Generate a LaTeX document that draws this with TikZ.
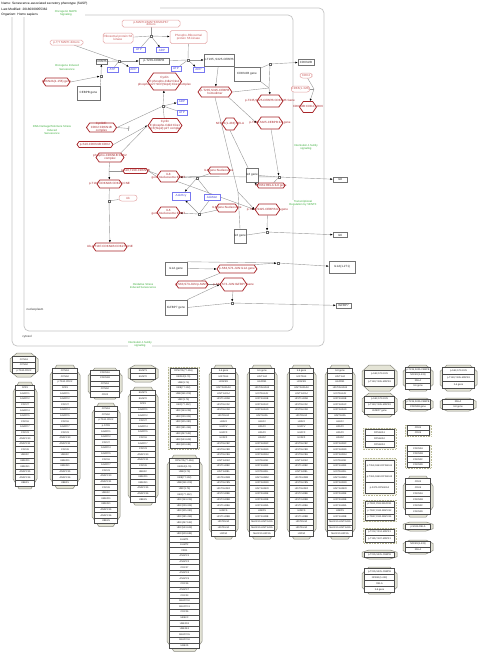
\documentclass[tikz,border=0pt]{standalone}
\usepackage{fontspec}
\setmainfont{Liberation Sans}
\usetikzlibrary{arrows.meta,shapes.symbols}

\definecolor{cxred}{RGB}{168,38,42}
\definecolor{pinkln}{RGB}{228,165,165}
\definecolor{pinktx}{RGB}{200,85,85}
\definecolor{chemln}{RGB}{120,120,240}
\definecolor{chemtx}{RGB}{70,70,215}
\definecolor{pwgreen}{RGB}{60,175,60}
\definecolor{edgegrey}{RGB}{150,150,150}
\definecolor{compgrey}{RGB}{195,195,195}
\definecolor{cpxfill}{RGB}{228,228,214}
\definecolor{cpxline}{RGB}{140,140,130}
\definecolor{setline}{RGB}{185,185,150}

\newcommand{\nodefont}{\fontsize{3}{3.4}\selectfont}
\newcommand{\pwfont}{\fontsize{2.8}{3.2}\selectfont}
\newcommand{\rowfont}{\fontsize{2.4}{2.8}\selectfont}
\newcommand{\hdrfont}{\fontsize{3.2}{3.6}\selectfont}

\pgfdeclarelayer{bg}
\pgfsetlayers{bg,main}

% member lists
\def\apcsub{ANAPC1,ANAPC2,CDC27,ANAPC4,ANAPC5,CDC16,ANAPC7,CDC23,ANAPC10,ANAPC11,CDC26,UBE2C,UBE2D1,UBE2E1,ANAPC15,ANAPC16,UBE2S}
\def\ubl{RPS27A(77-156),UBA52(1-76),UBB(1-76),UBB(77-152),UBB(153-228),UBC(1-76),UBC(77-152),UBC(153-228),UBC(229-304),UBC(305-380),UBC(381-456),UBC(457-532),UBC(533-608),UBC(609-684)}
\def\hisbase{HIST1H4,H2AFB1,HIST2H2AA3,HIST1H2AJ,HIST1H2AB,HIST1H2AC,HIST1H2AD,HIST3H2A,H2AFJ,H2AFV,H2AFX,H2AFZ,HIST1H2BC,HIST1H2BD,HIST1H2BH,HIST1H2BJ,HIST1H2BK,HIST1H2BL,HIST1H2BM,HIST1H2BN,HIST1H2BO,HIST2H2BE,HIST3H2BB,HIST1H2BA,H2BFS,HIST1H2BB}
\def\mehthree{Me2K10-HIST2H3A,Me2K10-HIST1H3A,Me2K10-H3F3A}

% complex with listed members: name, x0, x1, ytop, row height, pad, members
\newcommand{\cplx}[7]{%
  \edef\cpxlist{#7}%
  \foreach \rw [count=\k] in \cpxlist {\xdef\cpxn{\k}}%
  \pgfmathsetmacro\cpxbot{#4+2*#6+\cpxn*#5}%
  \pgfmathsetmacro\cpxcx{min(7,(#3-#2)/4)}%
  \pgfmathsetmacro\cpxcy{min(10,(\cpxbot-#4)/4)}%
  \draw[cpxout] ({#2+\cpxcx},#4) -- ({#3-\cpxcx},#4) -- (#3,{#4+\cpxcy}) -- (#3,{\cpxbot-\cpxcy})
    -- ({#3-\cpxcx},\cpxbot) -- ({#2+\cpxcx},\cpxbot) -- (#2,{\cpxbot-\cpxcy}) -- (#2,{#4+\cpxcy}) -- cycle;
  \foreach \rw [count=\k] in \cpxlist {
    \node[rowbox, minimum width={(#3-#2-5)*1pt}, minimum height={#5*1pt}] (#1-\k)
      at ({(#2+#3)/2},{#4+#6+(\k-0.5)*#5}) {\rw};
  }%
}
% set with listed members
\newcommand{\cset}[7]{%
  \edef\cpxlist{#7}%
  \foreach \rw [count=\k] in \cpxlist {\xdef\cpxn{\k}}%
  \pgfmathsetmacro\cpxbot{#4+2*#6+\cpxn*#5}%
  \draw[setout] (#2,#4) rectangle (#3,\cpxbot);
  \foreach \rw [count=\k] in \cpxlist {
    \node[rowbox, minimum width={(#3-#2-4)*1pt}, minimum height={#5*1pt}] (#1-\k)
      at ({(#2+#3)/2},{#4+#6+(\k-0.5)*#5}) {\rw};
  }%
}
% complex glyph with its label
\newcommand{\hexc}[6]{%
  \node[hexs, minimum width=#4pt, minimum height=#5pt] (#1) at (#2,#3) {};
  \node[hexlab] (#1-t) at (#1) {#6};
}

\begin{document}
\begin{tikzpicture}[
  x=1pt, y=-1pt,
  prot/.style={draw=pinkln, rounded corners=1.8pt, text=pinktx, font=\nodefont, align=center, inner sep=0.4pt, fill=white, line width=0.5pt},
  protel/.style={prot, rounded corners=2.6pt},
  ent/.style={draw=black!55, text=black!85, font=\nodefont, align=center, inner sep=0.4pt, fill=white, line width=0.5pt},
  chem/.style={draw=chemln, text=chemtx, font=\nodefont, inner sep=0.4pt, fill=white, line width=0.5pt},
  rxn/.style={draw=black!60, fill=white, minimum size=2.4pt, inner sep=0pt, line width=0.35pt},
  hexs/.style={shape=signal, signal to=east and west, signal pointer angle=110, draw=cxred, line width=0.75pt, fill=white, inner sep=0pt},
  hexlab/.style={text=cxred, font=\nodefont, align=center, inner sep=0pt},
  pw/.style={text=pwgreen, font=\pwfont, align=center, fill=white, inner sep=0.4pt},
  cmplbl/.style={text=black!80, font=\nodefont, inner sep=0.3pt},
  hdr/.style={anchor=west, font=\hdrfont, fill=white, inner sep=0.3pt},
  comp/.style={draw=compgrey, line width=0.7pt, rounded corners=5pt},
  cpxout/.style={draw=cpxline, fill=cpxfill, line width=0.5pt},
  setout/.style={draw=setline, fill=cpxfill!60, densely dotted, line width=0.6pt},
  rowbox/.style={draw=black!70, fill=white, line width=0.3pt, inner sep=0pt, font=\rowfont, text=black!85},
  ln/.style={draw=edgegrey, line width=0.4pt},
  arr/.style={ln, -{Latex[length=2.4pt,width=2pt,color=black]}},
  inh/.style={ln, -{Bar[width=4.5pt,color=black!70]}}
]
\useasboundingbox (0,0) rectangle (480,656);

% header
\node[hdr] (hdrname) at (1,4) {Name: Senescence-associated secretory phenotype (SASP)};
\node[hdr] (hdrdate) at (1,9.5) {Last Modified: 20180309055362};
\node[hdr] (hdrorg) at (1,14.5) {Organism: Homo sapiens};

% MAPK / RSK phosphorylation of CEBPB
\node[prot, minimum width=58pt, minimum height=7pt] (mapkdim) at (151,23.5) {p-MAPK1/MAPK3/MAPK7\\[-0.6pt]dimers};
\node[prot, minimum width=30pt, minimum height=10pt] (rsk) at (118,38) {Ribosomal protein S6\\kinase};
\node[prot, minimum width=37pt, minimum height=13pt] (prsk) at (188.5,37) {Phospho-Ribosomal\\protein S6 kinase};
\node[rxn] (rxrsk) at (151,36) {};
\node[chem, minimum width=12pt, minimum height=5pt] (atpA) at (139,49.5) {ATP};
\node[chem, minimum width=12pt, minimum height=5pt] (adpA) at (162,50) {ADP};
\node[prot, minimum width=33pt, minimum height=5pt] (pmapk) at (66.5,42.5) {p-T,Y MAPK dimers};
\node[ent, minimum width=11pt, minimum height=5pt] (cebpb) at (101.5,61.5) {CEBPB};
\node[rxn] (rxcebA) at (119,61) {};
\node[chem, minimum width=11pt, minimum height=5pt] (atpB) at (112.5,69.5) {ATP};
\node[chem, minimum width=9pt, minimum height=5pt] (adpB) at (133.5,69.5) {ADP};
\node[ent, minimum width=30pt, minimum height=6pt] (pcebpb) at (154,61) {p-T235-CEBPB};
\node[rxn] (rxcebB) at (188,60) {};
\node[chem, minimum width=10pt, minimum height=5pt] (atpC) at (176,68.5) {ATP};
\node[chem, minimum width=11pt, minimum height=5pt] (adpC) at (198.5,69.5) {ADP};
\node[ent, minimum width=28pt, minimum height=12pt] (ppcebpb) at (219,60) {p-T235, S325-CEBPB};
\node[ent, minimum width=26pt, minimum height=14pt] (cdkn2bgene) at (247,74) {CDKN2B gene};
\node[ent, minimum width=16pt, minimum height=6pt] (cdkn2b) at (306,62) {CDKN2B};
\node[rxn] (rxcdkn2b) at (270,64) {};
\coordinate (jbind) at (269,88);

% CEBPB expression
\hexc{cdkn2agene}{56.5}{82}{27}{8}{CDKN2A(1-156) gene}
\node[ent, minimum width=23pt, minimum height=14pt] (cebpbgene) at (88.5,93) {CEBPB gene};
\node[rxn] (rxcebpbexp) at (101,76) {};

% cyclin / CDKN1B
\hexc{cycA}{164.5}{81.5}{34}{17}{Cyclin\\E:phospho-Cdk2:Cks1\\phospho-p27:SCF(Skp2):Cks1 complex}
\node[rxn] (rxcyc) at (163,106) {};
\node[chem, minimum width=10pt, minimum height=5pt] (adpD) at (182,101.5) {ADP};
\node[chem, minimum width=10pt, minimum height=5pt] (atpD) at (182,112.5) {ATP};
\hexc{cycB}{165}{125.5}{34}{14}{Cyclin\\E:phospho-Cdk2:Cks1\\SCF(Skp2):p27 complex}
\hexc{cdk2cpx}{101.5}{127.5}{30}{9}{CyclinE:\\CDK2:CDKN1B\\complex}
\coordinate (inhend) at (129,128.5);
\hexc{pcdkn1b}{95}{144.5}{36}{6}{p-S10-CDKN1B:CDK2}
\hexc{phcdkn1b}{110}{157.5}{28}{9}{phospho-CDKN1B:CDK2\\complex}
\coordinate (jcdk) at (109,171);
\hexc{ppcdkn1b}{135.5}{171}{25}{5}{p-S10,T198-CDKN1B}
\hexc{ubpre}{109.5}{184}{25}{8}{p-T187-CDKN1B:CDK2:CCNE}
\node[rxn] (rxub) at (109,201) {};
\node[protel, minimum width=18pt, minimum height=6pt] (ub) at (128,198) {Ub};
\hexc{ubcpx}{110}{247}{34}{8}{Ub-p-T187-CDKN1B:CDK2:CCNE}

% histone methylation
\hexc{me8}{168.5}{176.5}{23}{11}{IL8\\gene:Nucleosome:EHMT}
\hexc{me6}{168.5}{212.5}{23}{11}{IL6\\gene:Nucleosome:EHMT}
\node[rxn] (rxme8) at (197,178) {};
\node[rxn] (rxme6) at (199,214) {};
\node[chem, minimum width=18pt, minimum height=8pt] (adohcy) at (181,196) {AdoHcy};
\node[chem, minimum width=16pt, minimum height=6pt] (adomet) at (212,197) {AdoMet};
\hexc{nuc8}{219}{170.5}{22}{7}{IL8 gene:Nucleosome}
\hexc{nuc6}{227}{208}{22}{8}{IL6 gene:Nucleosome}

% CEBPB targets
\hexc{cebpbdim}{215}{92}{34}{10}{p-T235,S325-CEBPB\\homodimer}
\hexc{cebpbcdkn2b}{270}{101}{26}{12}{p-T235,S325-CEBPB:CDKN2B Gene}
\hexc{nfkb}{230}{124}{16}{12}{NFKB1(1-433):RELA}
\hexc{cebpbil8}{270}{123}{26}{12}{p-T235,S325-CEBPB:IL8 gene}
\node[rxn] (rxil8) at (279,177) {};
\node[ent, minimum width=12pt, minimum height=14pt] (il8gene) at (252,175) {IL8 gene};
\node[ent, minimum width=14pt, minimum height=5pt] (il8) at (340,179.5) {IL8};
\hexc{nfkbil8}{271}{185.5}{28}{5}{NFKB1:RELA:IL8 gene}
\node[ent, minimum width=12pt, minimum height=14pt] (il6gene) at (240,236) {IL6 gene};
\hexc{cebpbil6}{267.5}{209.5}{25}{11}{p-T235,S325-CEBPB:IL6 gene}
\coordinate (jil6) at (238,192);
\node[rxn] (rxil6) at (267,232) {};
\node[ent, minimum width=14pt, minimum height=5pt] (il6) at (340,235) {IL6};

% IL1A and IGFBP7
\node[ent, minimum width=22pt, minimum height=13pt] (il1agene) at (176,268.5) {IL1A gene};
\hexc{junil1a}{237}{269}{40}{8}{p-S63,S73-JUN:IL1A gene}
\node[rxn] (rxil1a) at (278,263) {};
\node[ent, minimum width=26pt, minimum height=12pt] (il1a) at (342,267) {IL1A(1-271)};
\hexc{pjun}{192}{284.5}{32}{7}{p-S63,S73-JUN:p-MAPK}
\hexc{junigf}{233.5}{284.5}{27}{13}{p-S63,S73-JUN:IGFBP7 Gene}
\node[ent, minimum width=22pt, minimum height=15pt] (igfgene) at (176,307.5) {IGFBP7 gene};
\node[rxn] (rxigf) at (232,303) {};
\node[ent, minimum width=15pt, minimum height=5pt] (igf) at (343.5,305.5) {IGFBP7};

% cytosol
\node[protel, minimum width=12pt, minimum height=5pt] (cdk4) at (306,75.5) {CDK4};
\node[protel, minimum width=16pt, minimum height=6pt] (cdk6) at (300.5,89) {CDK6(1-326)};
\coordinate (jcdk46) at (314,89);
\hexc{cdkcpx}{308}{107}{17}{11}{CDKN2B:CDK4,CDK6}

% pathway and compartment labels
\node[pw] (lblmapk) at (66,13) {Oncogenic MAPK\\Signaling};
\node[pw] (lblois) at (67,67.5) {Oncogene Induced\\Senescence};
\node[pw] (lbldna) at (52,130) {DNA Damage/Telomere Stress\\Induced\\Senescence};
\node[pw] (lblox) at (143,286) {Oxidative Stress\\Induced Senescence};
\node[pw] (lblilA) at (306,147) {Interleukin-1 family\\signaling};
\node[pw] (lblilB) at (140,344) {Interleukin-1 family\\signaling};
\node[pw] (lblventx) at (303,203) {Transcriptional\\Regulation by VENTX};
\node[cmplbl] (lblnuc) at (35,310) {nucleoplasm};
\node[cmplbl] (lblcyt) at (27,337) {cytosol};

\begin{pgfonlayer}{bg}
  % compartments
  \draw[comp] (160,8) -- (324,8) -- (324,346) -- (12,346) -- (12,17);
  \draw[comp] (85,15) -- (293,15) -- (293,331) -- (24,331) -- (24,17);

  \draw[ln] (rsk) -- (rxrsk);
  \draw[arr] (rxrsk) -- (prsk);
  \draw[ln] (mapkdim) -- (rxrsk);
  \draw[ln] (atpA) -- (rxrsk);
  \draw[arr] (rxrsk) -- (adpA);
  \draw[ln] (cebpb) -- (rxcebA);
  \draw[arr] (rxcebA) -- (pcebpb);
  \draw[ln] (pmapk) -- (rxcebA);
  \draw[ln] (atpB) -- (rxcebA);
  \draw[arr] (rxcebA) -- (adpB);
  \draw[ln] (pcebpb) -- (rxcebB);
  \draw[arr] (rxcebB) -- (ppcebpb);
  \draw[ln] (prsk) -- (rxcebB);
  \draw[ln] (atpC) -- (rxcebB);
  \draw[arr] (rxcebB) -- (adpC);
  \draw[arr] (ppcebpb) -- (cebpbdim);
  \draw[ln] (cdkn2bgene) -- (rxcdkn2b);
  \draw[arr] (rxcdkn2b) -- (cdkn2b);
  \draw[ln] (cebpbdim.east) -- (jbind);
  \draw[ln] (cdkn2bgene.south east) -- (jbind);
  \draw[arr] (jbind) -- (cebpbcdkn2b.north);
  \draw[ln] (jbind) -- (rxcdkn2b);

  \draw[ln] (cebpbgene.north east) -- (rxcebpbexp);
  \draw[arr] (rxcebpbexp) -- (cebpb);
  \draw[arr] (cdkn2agene.east) -- (rxcebpbexp);

  \draw[ln] (cycB) -- (rxcyc);
  \draw[arr] (rxcyc) -- (cycA);
  \draw[ln] (atpD) -- (rxcyc);
  \draw[arr] (rxcyc) -- (adpD);
  \draw[ln] (cdk2cpx.east) -- (rxcyc);
  \draw[inh] (cdk2cpx.east) -- (inhend);
  \draw[arr] (pcdkn1b.east) -- (cycB.west);
  \draw[ln] (cycB.west) -- (phcdkn1b.north east);
  \draw[ln] (phcdkn1b) -- (jcdk);
  \draw[arr] (jcdk) -- (ubpre);
  \draw[ln] (jcdk) -- (ppcdkn1b);
  \draw[ln] (ubpre) -- (rxub);
  \draw[arr] (rxub) -- (ubcpx);
  \draw[ln] (ub) -- (rxub);
  \draw[ln] (ppcdkn1b.east) -- (me8.west);
  \draw[ln] (me8.east) -- (rxil8);
  \draw[arr] (ppcdkn1b.east) -- (cebpbil6.west);

  \draw[ln] (nuc8) -- (rxme8);
  \draw[arr] (rxme8) -- (me8);
  \draw[ln] (adomet) -- (rxme8);
  \draw[arr] (rxme8) -- (adohcy);
  \draw[ln] (nuc6) -- (rxme6);
  \draw[arr] (rxme6) -- (me6);
  \draw[ln] (adomet) -- (rxme6);
  \draw[arr] (rxme6) -- (adohcy);

  \draw[ln] (il8gene) -- (rxil8);
  \draw[arr] (rxil8) -- (il8);
  \draw[arr] (cebpbil8) -- (rxil8);
  \draw[ln] (nfkbil8) -- (rxil8);
  \draw[arr] (cebpbdim.south east) -- (cebpbil8.west);
  \draw[arr] (nfkb.south) -- (nfkbil8.west);
  \draw[ln] (cebpbdim.south) -- (jil6);
  \draw[ln] (il6gene.north) -- (jil6);
  \draw[arr] (jil6) -- (cebpbil6.west);
  \draw[ln] (il6gene) -- (rxil6);
  \draw[arr] (rxil6) -- (il6);
  \draw[arr] (cebpbil6) -- (rxil6);

  \draw[ln] (il1agene.north east) -- (rxil1a);
  \draw[arr] (rxil1a) -- (il1a);
  \draw[arr] (il1agene.east) -- (junil1a.west);
  \draw[ln] (pjun) -- (junil1a.south west);
  \draw[arr] (junil1a.north east) -- (rxil1a);
  \draw[arr] (igfgene.north east) -- (junigf.west);
  \draw[ln] (pjun.east) -- (junigf.west);
  \draw[ln] (igfgene.east) -- (rxigf);
  \draw[arr] (rxigf) -- (igf);
  \draw[arr] (junigf) -- (rxigf);

  \draw[ln] (cdk4) -- (jcdk46);
  \draw[ln] (cdk6) -- (jcdk46);
  \draw[arr] (jcdk46) -- (cdkcpx);
\end{pgfonlayer}

% complexes and sets, left block
\cplx{ccna}{10}{38}{353}{5.6}{3.6}{CCNA1,CCNA2,p-T160-CDK2}
\cplx{apcfzr}{13}{37}{382}{5.6}{3}{FZR1,\apcsub}
\cplx{ccnaapc}{50}{80}{365}{5.6}{3}{CCNA1,CCNA2,p-T160-CDK2,FZR1,\apcsub}
\cplx{cdkncc}{88}{122}{368}{5.4}{2}{CDKN1A,CDKN1B,CCNA1,CCNA2,CDK2}
\cplx{ccnapapc}{92}{120}{403}{5.6}{3}{CCNA1,CCNA2,p-T160-CDK2,p-FZR1,\apcsub}
\cplx{ehmt}{128}{158}{365}{5.5}{3}{EHMT1,EHMT2}
\cplx{ehmtapc}{128}{158}{387}{5.6}{3}{EHMT1,EHMT2,FZR1,\apcsub}
\cset{ubset}{168}{199}{367}{5.7}{1.2}{\ubl}
\cplx{ubehmtapc}{167}{202}{455}{5.6}{3}{\ubl,EHMT1,EHMT2,FZR1,\apcsub}
\cplx{nucilvi}{209}{238}{365}{5.6}{3}{IL6 gene,\hisbase,HIST2H3A,HIST1H3A,H3F3A}
\cplx{menucilvi}{247}{277}{365}{5.6}{3}{IL6 gene,\hisbase,\mehthree}
\cplx{nucilviii}{287}{316}{365}{5.6}{3}{IL8 gene,\hisbase,HIST2H3A,HIST1H3A,H3F3A}
\cplx{menucilviii}{325}{355}{365}{5.6}{3}{IL8 gene,\hisbase,\mehthree}

% complexes and sets, right block
\cplx{junmapk}{362}{397}{365}{8}{5}{{p-S63,S73-JUN},{p-T183,Y185-MAPK8}}
\cplx{junigfcpx}{362}{397}{393}{6}{3}{{p-S63,S73-JUN},{p-T183,Y185-MAPK8},IGFBP7 gene}
\cset{rskset}{363}{396}{428}{6}{1.5}{RPS6KA1,RPS6KA2,RPS6KA3}
\cset{prskset}{363}{396}{458}{11}{2}{{p-T359,S363-RPS6KA1},{p-T365,S369-RPS6KA3},{p-S375-RPS6KA2}}
\cset{ptset}{363}{396}{500}{6.5}{1}{{p-T180,Y182-MAPK11},{p-T180,Y182-MAPK12},{p-T180,Y182-MAPK14}}
\cset{erkset}{363}{396}{528}{6.5}{1}{{p-T202,Y204-MAPK3},{p-T185,Y187-MAPK1}}
\cplx{pcebpbcpx}{362}{397}{550}{5}{2}{{p-T235,S325-CEBPB}}
\cplx{cebnfil8}{362}{397}{567}{6}{1.5}{{p-T235,S325-CEBPB},NFKB1(1-433),RELA,IL8 gene}
\cplx{cebnfil6}{403}{433}{365}{5.5}{2}{{p-T235,S325-CEBPB},NFKB1(1-433),RELA,IL6 gene}
\cplx{cebcdkn2bg}{403}{433}{398}{5}{1.5}{{p-T235,S325-CEBPB},CDKN2B gene}
\cset{cdkset}{405}{431}{425}{5}{0.5}{CDK4,CDK6}
\cset{cdknset}{405}{431}{445}{5.5}{0.5}{CDKN2A,CDKN2B,CDKN2C,CDKN2D}
\cplx{cdkcdkn}{403}{433}{476}{6}{2.5}{CDK4,CDK6,CDKN2A,CDKN2B,CDKN2C,CDKN2D}
\cplx{prela}{403}{433}{522}{5}{2}{p-S536-RELA}
\cplx{nfkbcpx}{403}{433}{540}{5.5}{1.5}{NFKB1(1-433),RELA}
\cplx{junil6cpx}{440}{477}{365}{7}{2.5}{{p-S63,S73-JUN},{p-T183,Y185-MAPK8},IL6 gene}
\cplx{relail8}{440}{476}{398}{5}{1.5}{RELA,IL8 gene}
\end{tikzpicture}
\end{document}
